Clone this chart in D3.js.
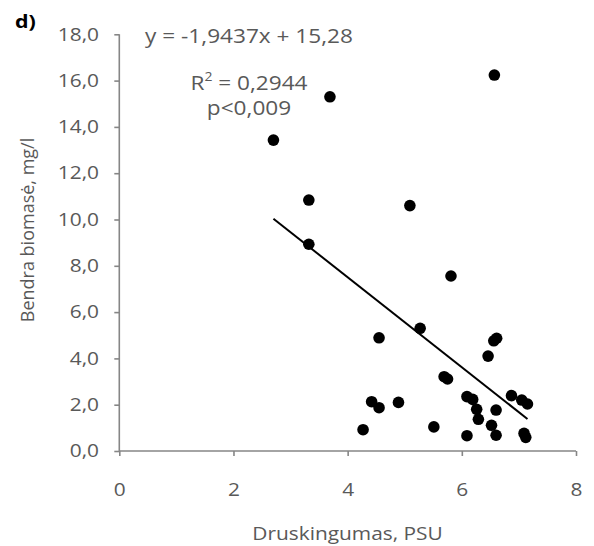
<!DOCTYPE html>
<html><head><meta charset="utf-8">
<script src="https://cdn.jsdelivr.net/npm/d3@7"></script>
<style>body{margin:0;background:#fff}svg{display:block}text{font-family:"Open Sans",sans-serif}</style>
</head><body>
<svg id="c" width="594" height="546"></svg>
<script>
const salinity = [2.70,3.69,3.32,3.32,6.57,5.09,5.81,5.27,4.55,6.61,6.56,6.46,5.69,5.75,4.42,4.55,4.89,4.27,5.51,6.09,6.19,6.26,6.29,6.09,6.60,6.52,6.60,6.87,7.05,7.15,7.09,7.12];
const biomass  = [13.43,15.30,10.84,8.93,16.24,10.60,7.56,5.30,4.89,4.87,4.76,4.10,3.21,3.11,2.13,1.87,2.10,0.92,1.04,2.35,2.23,1.80,1.37,0.66,1.77,1.11,0.68,2.39,2.20,2.03,0.76,0.59];
const xTicks = [0,2,4,6,8];
const yTicks = [0,2,4,6,8,10,12,14,16,18];
const slope = -1.9437, intercept = 15.28;
const annotations = ["y = -1,9437x + 15,28", "R² = 0,2944", "p<0,009"];
const xTitle = "Druskingumas, PSU", yTitle = "Bendra biomasė, mg/l", panel = "d)";

const SX = 1.16; // horizontal stretch of the reference
const svg = d3.select("#c");
const x = d3.scaleLinear().domain([0,8]).range([119.3,576]);
const y = d3.scaleLinear().domain([0,18]).range([451,34.3]);
const axisCol = "#868686", txtCol = "#595959";
const fmt = v => d3.format(".1f")(v).replace(".", ",");

const gx = svg.append("g").attr("transform", `translate(0,${y(0)})`)
  .call(d3.axisBottom(x).tickValues(xTicks).tickSize(5).tickPadding(27).tickFormat(d=>d));
const gy = svg.append("g").attr("transform", `translate(${x(0)},0)`)
  .call(d3.axisLeft(y).tickValues(yTicks).tickSize(5).tickPadding(8).tickFormat(fmt));
[gx,gy].forEach(g=>{
  g.selectAll("path,line").attr("stroke", axisCol).attr("stroke-width",1.6);
  g.selectAll("text").attr("fill", txtCol).style("font-size","18px")
    .style("font-family","'Open Sans',sans-serif").attr("transform",`scale(${SX},1)`);
});
gy.selectAll("text").attr("x", -20.3/SX);
gx.select(".domain").attr("d", `M${x(0)},0H${x(8)}`);
gy.select(".domain").attr("d", `M0,${y(18)}V${y(0)}`);

const xmin = d3.min(salinity), xmax = d3.max(salinity);
svg.append("line")
  .attr("x1", x(xmin)).attr("y1", y(slope*xmin+intercept))
  .attr("x2", x(xmax)).attr("y2", y(slope*xmax+intercept))
  .attr("stroke","#000").attr("stroke-width",2);

svg.append("g").selectAll("circle").data(salinity).join("circle")
  .attr("cx", d=>x(d)).attr("cy", (d,i)=>y(biomass[i])).attr("r",5.8).attr("fill","#000");

function htext(px, py, size) {
  return svg.append("text").attr("transform", `translate(${px},${py}) scale(${SX},1)`)
    .attr("fill", txtCol).style("font-size", size + "px");
}
htext(249,43,19.5).attr("text-anchor","middle").text(annotations[0]);
const r2 = htext(249,90,19.5).attr("text-anchor","middle");
r2.append("tspan").text("R");
r2.append("tspan").attr("dy",-9).style("font-size","12px").text("2");
r2.append("tspan").attr("dy",9).text(" = 0,2944");
htext(249,115,19.5).attr("text-anchor","middle").text(annotations[2]);

htext(347.5,540,18).attr("text-anchor","middle").text(xTitle);
svg.append("text").attr("transform","translate(33.5,230) rotate(-90)").attr("text-anchor","middle")
  .attr("fill",txtCol).style("font-size","18px").text(yTitle);
htext(15,28,18.5).attr("fill","#000").style("font-weight","bold").text(panel);
</script>
</body></html>
